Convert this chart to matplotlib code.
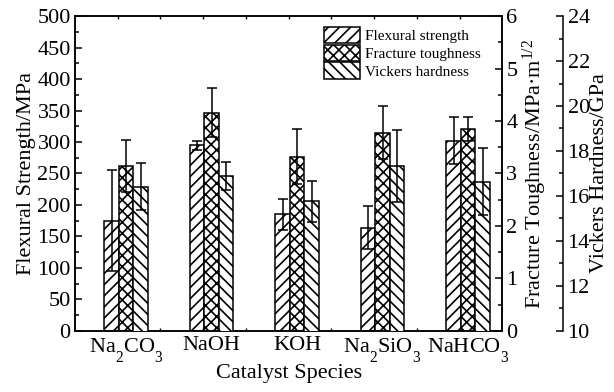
import numpy as np
import matplotlib
matplotlib.use('Agg')
import matplotlib.pyplot as plt
from matplotlib.patches import Patch

plt.rcParams['font.family'] = ['Liberation Serif', 'DejaVu Serif']
plt.rcParams['mathtext.fontset'] = 'custom'
plt.rcParams['mathtext.rm'] = 'Liberation Serif'
plt.rcParams['mathtext.it'] = 'Liberation Serif:italic'
plt.rcParams['hatch.linewidth'] = 1.2
plt.rcParams['font.size'] = 16

# push subscripts lower, like the original figure
try:
    import matplotlib._mathtext as _mt
    _mt.FontConstantsBase.sub1 = 1.0
    _mt.FontConstantsBase.sub2 = 1.1
except Exception:
    pass

# data
catalysts = ['Na$_2$CO$_3$', 'NaOH', 'KOH', 'Na$_2$SiO$_3$', 'NaHCO$_3$']
flexural = [175, 295, 185, 164, 302]          # MPa
flexural_err = [80, 7, 25, 34, 37]
toughness = [3.14, 4.16, 3.32, 3.78, 3.85]    # MPa m^1/2
toughness_err = [0.49, 0.46, 0.52, 0.51, 0.23]
hardness = [16.41, 16.90, 15.76, 17.34, 16.64]  # GPa
hardness_err = [1.05, 0.63, 0.90, 1.60, 1.48]

x = np.arange(1, len(catalysts) + 1)
w = 0.17
lw = 1.1
ekw = dict(fmt='none', ecolor='black', elinewidth=1.1, capsize=3.5, capthick=1.1)

fig = plt.figure(figsize=(6.14, 3.92), dpi=100)
ax = fig.add_axes([0.122, 0.156, 0.696, 0.803])
ax2 = ax.twinx()
ax3 = ax.twinx()

ax.bar(x - w, flexural, w, color='white', edgecolor='black', hatch='///', linewidth=lw)
ax.errorbar(x - w, flexural, yerr=flexural_err, **ekw)
ax2.bar(x, toughness, w, color='white', edgecolor='black', hatch='xxx', linewidth=lw)
ax2.errorbar(x, toughness, yerr=toughness_err, **ekw)
ax3.bar(x + w, hardness, w, color='white', edgecolor='black', hatch='\\\\\\', linewidth=lw,
        bottom=0)
ax3.errorbar(x + w, hardness, yerr=hardness_err, **ekw)

ax.set_xlim(0.4, 5.4)
ax.set_ylim(0, 500)
ax2.set_ylim(0, 6)
ax3.set_ylim(10, 24)

ax.set_xticks(x)
ax.set_xticklabels(catalysts)
ax.set_xticks(np.arange(0.9, 5.4, 0.5), minor=True)
ax.tick_params(axis='x', which='major', length=0, pad=4)
ax.tick_params(axis='x', which='minor', length=2, direction='in', top=True, width=1)
ax.set_yticks(np.arange(0, 501, 50))
ax.set_yticks(np.arange(0, 501, 25), minor=True)
ax.tick_params(axis='y', which='major', direction='in', length=5, width=1.1, pad=3)
ax.tick_params(axis='y', which='minor', direction='in', length=3, width=1.1)

ax2.set_yticks(np.arange(0, 7, 1))
ax2.set_yticks(np.arange(0, 6.1, 0.5), minor=True)
ax2.tick_params(axis='y', which='major', direction='in', length=5, width=1.1, pad=3)
ax2.tick_params(axis='y', which='minor', direction='in', length=3, width=1.1)

ax3.spines['right'].set_position(('outward', 44))
for s in ['top', 'bottom', 'left']:
    ax3.spines[s].set_visible(False)
ax3.set_yticks(np.arange(10, 25, 2))
ax3.set_yticks(np.arange(10, 25, 1), minor=True)
ax3.tick_params(axis='y', which='major', direction='in', length=5, width=1.1, pad=3)
ax3.tick_params(axis='y', which='minor', direction='in', length=3, width=1.1)

for a in (ax, ax2, ax3):
    for s in a.spines.values():
        s.set_linewidth(1.1)

ax.set_xlabel('Catalyst Species', labelpad=0)
ax.set_ylabel('Flexural Strength/MPa', labelpad=1)
ax2.set_ylabel('Fracture Toughness/MPa·m$^{1/2}$', labelpad=2)
ax3.set_ylabel('Vickers Hardness/GPa', labelpad=0)

handles = [Patch(facecolor='white', edgecolor='black', hatch='///', linewidth=lw),
           Patch(facecolor='white', edgecolor='black', hatch='xxx', linewidth=lw),
           Patch(facecolor='white', edgecolor='black', hatch='\\\\\\', linewidth=lw)]
ax3.legend(handles, ['Flexural strength', 'Fracture toughness', 'Vickers hardness'],
           loc='upper left', bbox_to_anchor=(0.575, 0.975), frameon=False, fontsize=11,
           handlelength=2.4, handleheight=1.25, labelspacing=0.1, handletextpad=0.3,
           borderaxespad=0, borderpad=0.2)

fig.savefig('out.png', dpi=100)
